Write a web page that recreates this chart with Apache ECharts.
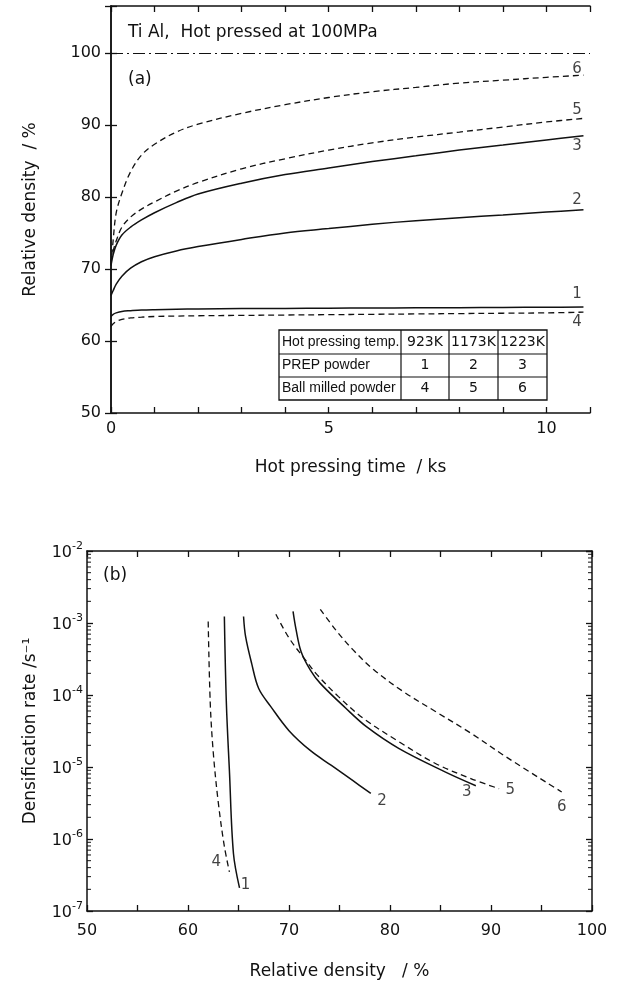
<!DOCTYPE html>
<html><head><meta charset="utf-8">
<script src="https://cdn.jsdelivr.net/npm/echarts@6/dist/echarts.min.js"></script>
<style>html,body{margin:0;padding:0;background:#fff}#c{width:621px;height:988px}</style>
</head><body><div id="c"></div>
<script>
// ---------- Panel (a): relative density vs hot pressing time ----------
const timeA = [0, 0.05, 0.12, 0.25, 0.45, 0.7, 1.0, 1.5, 2, 3, 4, 5, 6, 7, 8, 9, 10, 10.85];
const densA1 = [63.4, 63.7, 63.9, 64.1, 64.2, 64.3, 64.35, 64.4, 64.45, 64.5, 64.52, 64.55, 64.58, 64.6, 64.62, 64.65, 64.68, 64.7];
const densA2 = [66.3, 67.0, 67.9, 69.0, 70.1, 71.0, 71.7, 72.5, 73.1, 74.1, 75.0, 75.6, 76.2, 76.7, 77.1, 77.5, 77.9, 78.2];
const densA3 = [70.5, 72.0, 73.3, 74.7, 75.8, 76.8, 77.8, 79.2, 80.4, 81.9, 83.1, 84.0, 84.9, 85.7, 86.5, 87.2, 87.9, 88.5];
const densA4 = [62.0, 62.4, 62.7, 63.0, 63.2, 63.3, 63.4, 63.45, 63.5, 63.55, 63.6, 63.65, 63.7, 63.75, 63.8, 63.85, 63.9, 64.0];
const densA5 = [71.0, 72.5, 73.9, 75.8, 77.2, 78.3, 79.3, 80.8, 82.0, 83.9, 85.3, 86.5, 87.5, 88.3, 89.0, 89.7, 90.4, 90.9];
const densA6 = [70.5, 74.0, 77.8, 80.5, 83.5, 85.8, 87.3, 89.0, 90.1, 91.6, 92.8, 93.8, 94.6, 95.2, 95.8, 96.2, 96.6, 96.9];
const fullDensity = 100;
const labelsA = [['6', 10.7, 97.7], ['5', 10.7, 92.1], ['3', 10.7, 87.0], ['2', 10.7, 79.6], ['1', 10.7, 66.5], ['4', 10.7, 62.6]];
const xTicksA = [0, 5, 10];

// ---------- Panel (b): densification rate vs relative density ----------
const densB1 = [63.6, 63.8, 64.1, 64.5, 65.1];
const rateB1 = [1.23e-3, 7.6e-5, 8.9e-6, 6.3e-7, 2.1e-7];
const densB2 = [65.5, 65.7, 66.3, 67.0, 68.2, 70.0, 72.1, 74.2, 76.3, 78.1];
const rateB2 = [1.23e-3, 6.5e-4, 2.75e-4, 1.23e-4, 6.9e-5, 3.2e-5, 1.7e-5, 1.05e-5, 6.5e-6, 4.3e-6];
const densB3 = [70.4, 70.7, 71.2, 72.1, 73.1, 75.6, 77.7, 80.9, 85.5, 88.5];
const rateB3 = [1.45e-3, 8.1e-4, 4.0e-4, 2.24e-4, 1.45e-4, 6.6e-5, 3.6e-5, 1.8e-5, 8.5e-6, 5.5e-6];
const densB4 = [62.0, 62.2, 62.5, 63.0, 63.6, 64.1];
const rateB4 = [1.05e-3, 7.9e-5, 1.6e-5, 3.2e-6, 7.9e-7, 3.5e-7];
const densB5 = [68.7, 70.0, 71.6, 72.8, 74.9, 77.4, 80.9, 84.5, 88.0, 90.8];
const rateB5 = [1.32e-3, 6.2e-4, 3.1e-4, 1.9e-4, 9.5e-5, 4.7e-5, 2.24e-5, 1.12e-5, 6.9e-6, 5.0e-6];
const densB6 = [73.1, 74.6, 76.3, 78.4, 81.3, 84.5, 88.0, 91.5, 97.0];
const rateB6 = [1.55e-3, 8.1e-4, 4.3e-4, 2.24e-4, 1.12e-4, 5.9e-5, 2.95e-5, 1.38e-5, 4.5e-6];
const labelsB = [['2', 79.2, 3.4e-6], ['3', 87.6, 4.5e-6], ['5', 91.9, 4.7e-6], ['6', 97.0, 2.8e-6], ['4', 62.8, 4.7e-7], ['1', 65.7, 2.3e-7]];
// log-axis minor tick positions (mantissas within each decade)
const minorMantissas = [2, 3, 4, 5, 6, 7, 8, 9];
const minorDecades = [-7, -6, -5, -4, -3];

// ---------- Inset table ----------
const tableHeader = ['Hot pressing temp.', '923K', '1173K', '1223K'];
const tableRows = [['PREP powder', '1', '2', '3'], ['Ball milled powder', '4', '5', '6']];

const titleA = 'Ti Al,  Hot pressed at 100MPa';

const FONT = 'DejaVu Sans';
const INK = '#111';
const chart = echarts.init(document.getElementById('c'), null, {renderer: 'canvas'});

function pairs(xs, ys) { return xs.map((x, i) => [x, ys[i]]); }
function lineSeries(x, y, dashed, xi, yi) {
  return {
    type: 'line', xAxisIndex: xi, yAxisIndex: yi, data: pairs(x, y),
    showSymbol: false, symbol: 'none', smooth: 0.35, silent: true,
    lineStyle: {color: INK, width: dashed ? 1.3 : 1.5, type: dashed ? [6, 4] : 'solid'}
  };
}
function labelSeries(list, xi, yi) {
  return {
    type: 'scatter', xAxisIndex: xi, yAxisIndex: yi, symbolSize: 1, silent: true,
    itemStyle: {color: 'rgba(0,0,0,0)'},
    data: list.map(l => ({name: l[0], value: [l[1], l[2]]})),
    label: {show: true, position: 'inside', formatter: '{b}', color: INK, fontSize: 15, fontFamily: FONT}
  };
}

const axLine = {show: true, lineStyle: {color: INK, width: 1.5}};
const tickIn = {show: true, inside: true, length: 6, lineStyle: {color: INK, width: 1.3}};
const lblStyle = {color: INK, fontSize: 16, fontFamily: FONT};

const supLabel = v => {
  const e = Math.round(Math.log10(v));
  return '{b|10}{s|' + e + '}';
};
const supRich = {
  b: {fontSize: 16, fontFamily: FONT, color: INK, lineHeight: 20, verticalAlign: 'bottom'},
  s: {fontSize: 11, fontFamily: FONT, color: INK, lineHeight: 20, verticalAlign: 'top', padding: [0, 0, 6, 0]}
};

const minorData = [];
minorDecades.forEach(d => minorMantissas.forEach(m => minorData.push([50, m * Math.pow(10, d)])));

const option = {
  animation: false,
  backgroundColor: '#fff',
  grid: [
    {left: 111, right: 31, top: 6, bottom: 575},
    {left: 87, right: 29, top: 551, bottom: 77}
  ],
  xAxis: [
    {gridIndex: 0, type: 'value', min: 0, max: 11, interval: 1, position: 'bottom',
     axisLine: axLine, axisTick: tickIn, splitLine: {show: false},
     axisLabel: Object.assign({margin: 8, formatter: v => xTicksA.includes(v) ? String(v) : ''}, lblStyle),
     name: 'Hot pressing time  / ks', nameLocation: 'middle', nameGap: 46,
     nameTextStyle: {fontSize: 17, fontFamily: FONT, color: INK}},
    {gridIndex: 0, type: 'value', min: 0, max: 11, interval: 1, position: 'top',
     axisLine: axLine, axisTick: tickIn, axisLabel: {show: false}, splitLine: {show: false}},
    {gridIndex: 1, type: 'value', min: 50, max: 100, interval: 5, position: 'bottom',
     axisLine: axLine, axisTick: tickIn, splitLine: {show: false},
     axisLabel: Object.assign({margin: 12, formatter: v => v % 10 === 0 ? String(v) : ''}, lblStyle),
     name: 'Relative density   / %', nameLocation: 'middle', nameGap: 52,
     nameTextStyle: {fontSize: 17, fontFamily: FONT, color: INK}},
    {gridIndex: 1, type: 'value', min: 50, max: 100, interval: 5, position: 'top',
     axisLine: axLine, axisTick: tickIn, axisLabel: {show: false}, splitLine: {show: false}}
  ],
  yAxis: [
    {gridIndex: 0, type: 'value', min: 50, max: 106.5, interval: 10, position: 'left',
     axisLine: axLine, axisTick: tickIn, splitLine: {show: false},
     axisLabel: Object.assign({margin: 10, formatter: v => (v % 10 === 0 && v <= 100) ? String(v) : ''}, lblStyle),
     name: 'Relative density  / %', nameLocation: 'middle', nameGap: 72, nameRotate: 90,
     nameTextStyle: {fontSize: 17, fontFamily: FONT, color: INK}},
    {gridIndex: 0, type: 'value', min: 50, max: 106.5, interval: 10, position: 'right',
     axisLine: axLine, axisTick: tickIn, axisLabel: {show: false}, splitLine: {show: false}},
    {gridIndex: 1, type: 'log', logBase: 10, min: 1e-7, max: 1e-2, position: 'left',
     axisLine: axLine, axisTick: tickIn, splitLine: {show: false},
     axisLabel: {margin: 4, formatter: supLabel, rich: supRich},
     name: 'Densification rate /s\u207B\u00B9', nameLocation: 'middle', nameGap: 48, nameRotate: 90,
     nameTextStyle: {fontSize: 17, fontFamily: FONT, color: INK}},
    {gridIndex: 1, type: 'log', logBase: 10, min: 1e-7, max: 1e-2, position: 'right',
     axisLine: axLine, axisTick: tickIn, axisLabel: {show: false}, splitLine: {show: false}}
  ],
  series: [
    Object.assign(lineSeries(timeA, densA1, false, 0, 0), {
      markLine: {silent: true, symbol: 'none', label: {show: false},
        lineStyle: {color: INK, width: 1.2, type: [12, 4, 2, 4]},
        data: [{yAxis: fullDensity}]}
    }),
    lineSeries(timeA, densA2, false, 0, 0),
    lineSeries(timeA, densA3, false, 0, 0),
    lineSeries(timeA, densA4, true, 0, 0),
    lineSeries(timeA, densA5, true, 0, 0),
    lineSeries(timeA, densA6, true, 0, 0),
    labelSeries(labelsA, 0, 0),
    lineSeries(densB1, rateB1, false, 2, 2),
    lineSeries(densB2, rateB2, false, 2, 2),
    lineSeries(densB3, rateB3, false, 2, 2),
    lineSeries(densB4, rateB4, true, 2, 2),
    lineSeries(densB5, rateB5, true, 2, 2),
    lineSeries(densB6, rateB6, true, 2, 2),
    labelSeries(labelsB, 2, 2),
    {
      type: 'custom', xAxisIndex: 2, yAxisIndex: 2, silent: true, data: minorData,
      encode: {x: 0, y: 1}, clip: false,
      renderItem: (params, api) => {
        const v = api.value(1);
        const pL = api.coord([50, v]);
        const pR = api.coord([100, v]);
        return {type: 'group', children: [
          {type: 'line', shape: {x1: pL[0], y1: pL[1], x2: pL[0] + 4, y2: pL[1]}, style: {stroke: INK, lineWidth: 1}},
          {type: 'line', shape: {x1: pR[0] - 4, y1: pR[1], x2: pR[0], y2: pR[1]}, style: {stroke: INK, lineWidth: 1}}
        ]};
      }
    }
  ]
};

// table graphic
const colX = [279, 401, 449, 498, 547];
const rowY = [330, 354, 377, 400];
const tableEls = [];
const allRows = [tableHeader].concat(tableRows);
tableEls.push({type: 'rect', shape: {x: colX[0], y: rowY[0], width: colX[4] - colX[0], height: rowY[3] - rowY[0]},
  style: {fill: '#fff', stroke: INK, lineWidth: 1.3}});
for (let i = 1; i < 3; i++) tableEls.push({type: 'line', shape: {x1: colX[0], y1: rowY[i], x2: colX[4], y2: rowY[i]}, style: {stroke: INK, lineWidth: 1.2}});
for (let j = 1; j < 4; j++) tableEls.push({type: 'line', shape: {x1: colX[j], y1: rowY[0], x2: colX[j], y2: rowY[3]}, style: {stroke: INK, lineWidth: 1.2}});
allRows.forEach((row, i) => {
  row.forEach((txt, j) => {
    const yc = (rowY[i] + rowY[i + 1]) / 2;
    if (j === 0) {
      tableEls.push({type: 'text', x: colX[0] + 3, y: yc, style: {text: txt, fill: INK, font: '14px "Liberation Sans Narrow", "Liberation Sans", sans-serif', verticalAlign: 'middle', align: 'left'}});
    } else {
      tableEls.push({type: 'text', x: (colX[j] + colX[j + 1]) / 2, y: yc, style: {text: txt, fill: INK, font: '14px ' + FONT, verticalAlign: 'middle', align: 'center'}});
    }
  });
});
option.graphic = [
  {type: 'text', x: 128, y: 33, style: {text: titleA, fill: INK, font: '17px ' + FONT, verticalAlign: 'middle'}},
  {type: 'text', x: 128, y: 80, style: {text: '(a)', fill: INK, font: '17px ' + FONT, verticalAlign: 'middle'}},
  {type: 'text', x: 103, y: 576, style: {text: '(b)', fill: INK, font: '17px ' + FONT, verticalAlign: 'middle'}},
  {type: 'group', children: tableEls}
];

chart.setOption(option);
</script></body></html>
